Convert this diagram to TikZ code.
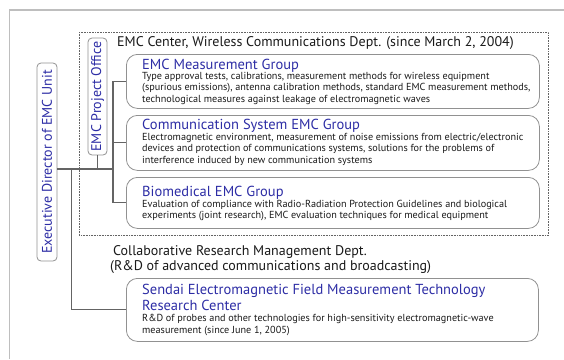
\documentclass[tikz,border=0pt]{standalone}
\usepackage{fontspec}
\setmainfont{PT Sans}
\definecolor{grpblue}{RGB}{45,45,165}
\definecolor{txtgray}{RGB}{25,25,25}
\definecolor{boxgray}{RGB}{145,145,145}
\definecolor{linegray}{RGB}{100,100,100}
\definecolor{framegray}{RGB}{190,190,190}
\begin{document}
\begin{tikzpicture}[x=1pt,y=-1pt,
  grpbox/.style={draw=boxgray,line width=0.8pt,rounded corners=11pt,minimum width=#1,inner sep=0pt,anchor=north west},
  vbox/.style={draw=boxgray,line width=0.8pt,rounded corners=4pt,inner sep=0pt,rotate=90,text=grpblue,font=\fontsize{14}{16}\selectfont},
  grptitle/.style={anchor=base west,inner sep=0pt,text=grpblue,align=left,font=\fontsize{14.5}{15.7}\selectfont},
  grpbody/.style={anchor=base west,inner sep=0pt,text=txtgray,align=left,font=\fontsize{10.2}{11.4}\selectfont},
  heading/.style={anchor=base west,inner sep=0pt,text=txtgray,align=left,font=\fontsize{14}{14.8}\selectfont},
  conn/.style={draw=linegray,line width=1.1pt}]
\useasboundingbox (0,0) rectangle (564,359);
% outer frame (open at right and bottom)
\draw[framegray,line width=1.2pt] (9.5,359) -- (9.5,10) -- (564,10);
% dashed region
\node[draw=linegray,densely dotted,line width=0.6pt,minimum width=469pt,minimum height=203pt,inner sep=0pt,anchor=north west] (center) at (79,32) {};
\node[heading] (ctitle) at (117,46.7) {EMC Center, Wireless Communications Dept. (since March 2, 2004)};
% vertical boxes
\node[vbox,minimum width=198pt,minimum height=20pt] (exec) at (47,162) {Executive Director of EMC Unit};
\node[vbox,minimum width=117pt,minimum height=19pt] (pmo) at (97.5,96.5) {EMC Project Office};
% group boxes
\node[grpbox=413pt,minimum height=54pt] (g1) at (126,54) {};
\node[grptitle] (g1t) at (142,69) {EMC Measurement Group};
\node[grpbody] (g1b) at (142,102.3) {Type approval tests, calibrations, measurement methods for wireless equipment\\(spurious emissions), antenna calibration methods, standard EMC measurement methods,\\technological measures against leakage of electromagnetic waves};
\node[grpbox=413pt,minimum height=55pt] (g2) at (126,115) {};
\node[grptitle] (g2t) at (142,129) {Communication System EMC Group};
\node[grpbody] (g2b) at (142,163.3) {Electromagnetic environment, measurement of noise emissions from electric/electronic\\devices and protection of communications systems, solutions for the problems of\\interference induced by new communication systems};
\node[grpbox=413pt,minimum height=51pt] (g3) at (126,177) {};
\node[grptitle] (g3t) at (142,196) {Biomedical EMC Group};
\node[grpbody] (g3b) at (142,218.4) {Evaluation of compliance with Radio-Radiation Protection Guidelines and biological\\experiments (joint research), EMC evaluation techniques for medical equipment};
\node[heading] (collab) at (110,270.7) {\hspace*{3pt}Collaborative Research Management Dept.\\(R\&D of advanced communications and broadcasting)};
\node[grpbox=412pt,minimum height=63pt] (g4) at (126,278) {};
\node[grptitle] (g4t) at (142,310) {Sendai Electromagnetic Field Measurement Technology\\Research Center};
\node[grpbody] (g4b) at (142,333) {R\&D of probes and other technologies for high-sensitivity electromagnetic-wave\\measurement (since June 1, 2005)};
% connectors
\coordinate (j1) at (113,169);
\coordinate (j2) at (71.5,169);
\coordinate (jp) at (97.5,169);
\draw[conn] (exec.south |- j1) -- (j1);
\draw[conn] (pmo.west) -- (jp);
\draw[conn] (j1 |- g1.west) -- (j1 |- g3.west);
\draw[conn] (j1 |- g1.west) -- (g1.west);
\draw[conn] (j1 |- g2.west) -- (g2.west);
\draw[conn] (j1 |- g3.west) -- (g3.west);
\draw[conn] (j2) -- (j2 |- g4.west) -- (g4.west);
\end{tikzpicture}
\end{document}
